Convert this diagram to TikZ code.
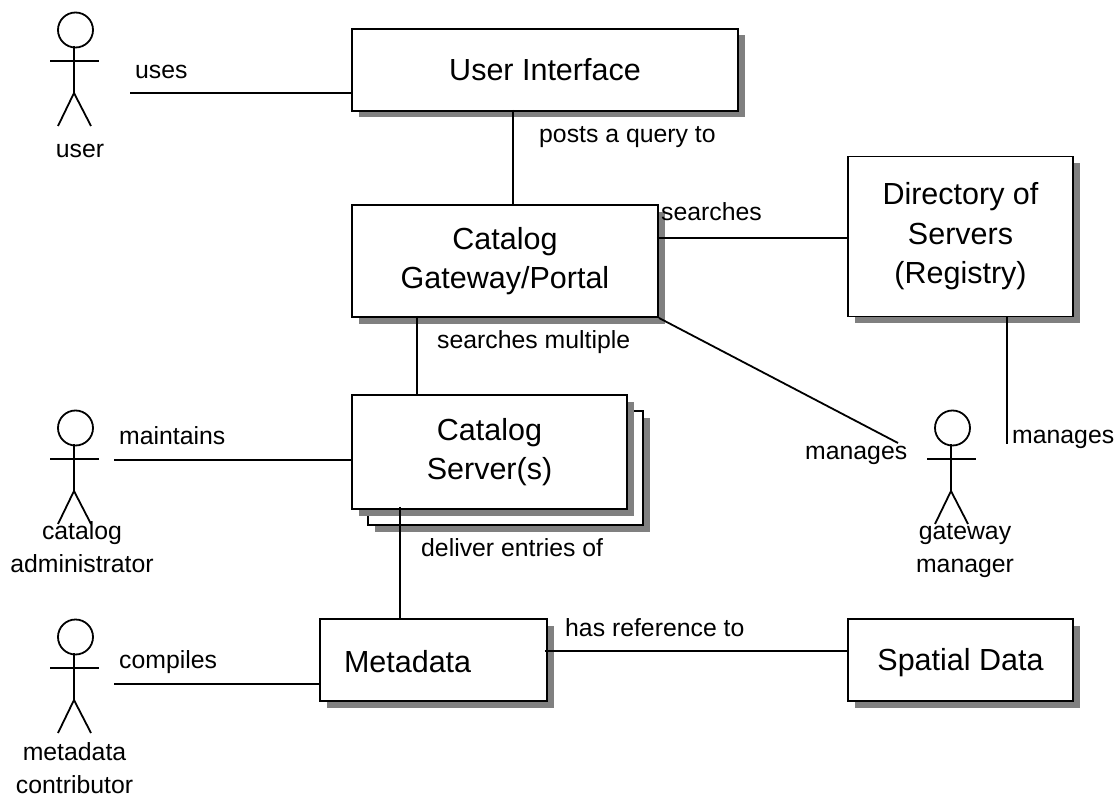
\documentclass[tikz,border=0pt]{standalone}
\usepackage{fontspec}
\setmainfont{Liberation Sans}
\usetikzlibrary{shadows}
\definecolor{shadowgray}{HTML}{808080}
\tikzset{
  box/.style={draw,fill=white,line width=1.9pt,align=center,
    font=\fontsize{30.5}{39.5}\selectfont,
    drop shadow={shadow xshift=6.5pt,shadow yshift=-6.5pt,fill=shadowgray,opacity=1}},
  textdown/.style={execute at begin node={\rule{0pt}{#1}}},
  lbl/.style={anchor=base west,inner sep=0pt,font=\fontsize{24.8}{33}\selectfont},
  actorlbl/.style={anchor=base,inner sep=0pt,align=center,font=\fontsize{24.8}{33}\selectfont},
  pics/actor/.style={code={
    \draw[line width=1.8pt] (0.5,0) circle[radius=17.5pt];
    \draw[line width=1.8pt] (-1,16)--(-1,63);
    \draw[line width=1.8pt] (-25,31)--(24,31);
    \draw[line width=1.8pt] (-17,96)--(-1,63)--(16,96);
  }}
}
\begin{document}
\begin{tikzpicture}[x=1pt,y=-1pt]
  \useasboundingbox (0,0) rectangle (1117,797);
  % boxes
  \path (545,70) node[box,minimum width=386pt,minimum height=82pt] (ui) {User Interface};
  \path (505,261) node[box,minimum width=306pt,minimum height=112pt,textdown=31pt] (gateway) {Catalog\\Gateway/Portal};
  \path (960.5,236.5) node[box,minimum width=225pt,minimum height=160pt,textdown=35pt] (registry) {Directory of\\Servers\\(Registry)};
  \path (505.5,468) node[box,minimum width=275pt,minimum height=114pt] (serverback) {};
  \path (489.5,452) node[box,minimum width=275pt,minimum height=114pt,textdown=35pt] (server) {Catalog\\Server(s)};
  \path (433.5,660) node[box,minimum width=227pt,minimum height=82pt,text width=179pt,inner xsep=24pt,align=left,textdown=26pt] (metadata) {Metadata};
  \path (960.5,660) node[box,minimum width=225pt,minimum height=82pt,textdown=28pt] (spatial) {Spatial Data};
  % actors
  \path (75,30) pic {actor};
  \path (75,428) pic {actor};
  \path (75,637) pic {actor};
  \path (952,428) pic {actor};
  % free ends
  \coordinate (usesend) at (130,93);
  \coordinate (maintainsend) at (114,460);
  \coordinate (compilesend) at (114,684);
  \coordinate (managesend) at (898,443);
  \coordinate (registryend) at (1007,444);
  % connectors
  \begin{scope}[line width=1.8pt]
    \draw (usesend) -- (usesend -| ui.west);
    \draw ([xshift=-32pt,yshift=2pt]ui.south) -- ([xshift=8pt]gateway.north);
    \draw ([xshift=-2pt,yshift=23pt]gateway.east) -- ([yshift=-1.5pt]registry.west);
    \draw ([xshift=-88pt,yshift=2pt]gateway.south) -- ([xshift=-72.5pt]server.north);
    \draw (gateway.south east) -- (managesend);
    \draw (registryend |- registry.south) -- (registryend);
    \draw (maintainsend) -- (maintainsend -| server.west);
    \draw ([xshift=-89.5pt,yshift=3pt]server.south) -- ([xshift=-33.5pt]metadata.north);
    \draw (compilesend) -- (compilesend -| metadata.west);
    \draw ([xshift=-3pt,yshift=9pt]metadata.east) -- ([yshift=9pt]spatial.west);
  \end{scope}
  % labels
  \path (135,79) node[lbl] (uses) {uses};
  \path (539,143) node[lbl] (posts) {posts a query to};
  \path (661,220) node[lbl] (searches) {searches};
  \path (437,348) node[lbl] (searchesmultiple) {searches multiple};
  \path (119,444) node[lbl] (maintains) {maintains};
  \path (421,556) node[lbl] (deliver) {deliver entries of};
  \path (119,668) node[lbl] (compiles) {compiles};
  \path (565,636) node[lbl] (hasref) {has reference to};
  \path (805,459) node[lbl] (managesgw) {manages};
  \path (1012,443) node[lbl] (managesreg) {manages};
  \path (80,158) node[actorlbl] (user) {user};
  \path (82,572) node[actorlbl] (catadmin) {catalog\\administrator};
  \path (74.5,793) node[actorlbl] (contributor) {metadata\\contributor};
  \path (965,572) node[actorlbl] (gwmanager) {gateway\\manager};
\end{tikzpicture}
\end{document}
